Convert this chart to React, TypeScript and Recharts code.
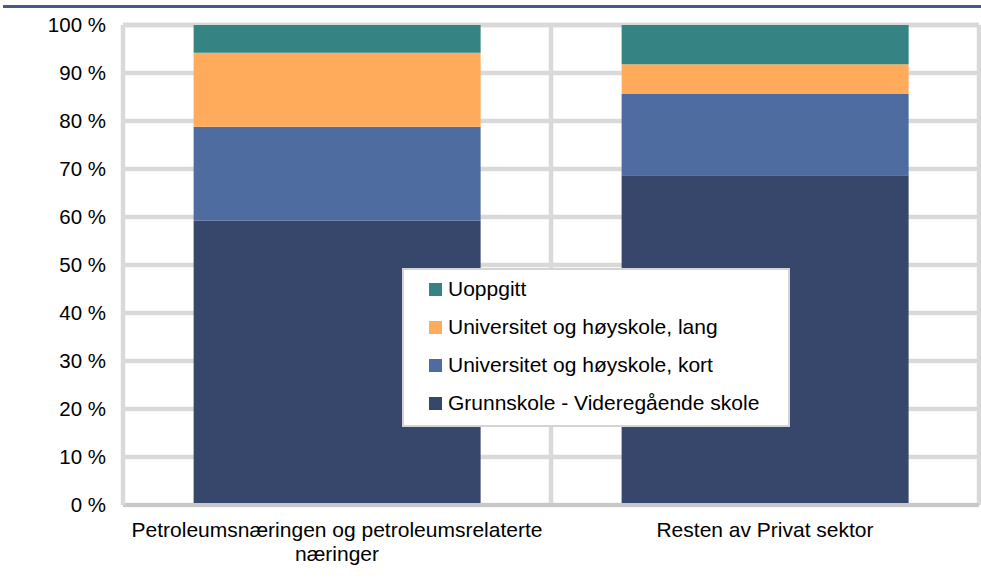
import React from "react";
import { BarChart, Bar, XAxis, YAxis, CartesianGrid, Legend } from "recharts";

const categories = [
  "Petroleumsnæringen og petroleumsrelaterte næringer",
  "Resten av Privat sektor",
];
const grunnskole = [59.2, 68.7];
const kort = [19.6, 16.9];
const lang = [15.4, 6.2];
const uoppgitt = [5.8, 8.2];
const yTicks = [0, 10, 20, 30, 40, 50, 60, 70, 80, 90, 100];

const series = [
  { key: "grunnskole", name: "Grunnskole - Videregående skole", color: "#36476b" },
  { key: "kort", name: "Universitet og høyskole, kort", color: "#4e6ca0" },
  { key: "lang", name: "Universitet og høyskole, lang", color: "#ffab5b" },
  { key: "uoppgitt", name: "Uoppgitt", color: "#358483" },
];

const data = categories.map((name, i) => ({
  name,
  grunnskole: grunnskole[i],
  kort: kort[i],
  lang: lang[i],
  uoppgitt: uoppgitt[i],
}));

const FONT = "'Liberation Sans', Arial, sans-serif";

// greedy word wrap measured on a canvas
const wrap = (text: string, maxWidth: number, font: string) => {
  const ctx = document.createElement("canvas").getContext("2d");
  if (!ctx) return [text];
  ctx.font = font;
  const lines: string[] = [];
  let cur = "";
  text.split(" ").forEach((w) => {
    const next = cur ? cur + " " + w : w;
    if (cur && ctx.measureText(next).width > maxWidth) {
      lines.push(cur);
      cur = w;
    } else {
      cur = next;
    }
  });
  if (cur) lines.push(cur);
  return lines;
};

const XTick = (props: any) => {
  const { x, y, payload } = props;
  const lines = wrap(String(payload.value), 430, "21px 'Liberation Sans'");
  return (
    <text x={x} y={y} textAnchor="middle" fontSize={21} fontFamily={FONT} fill="#000">
      {lines.map((l, i) => (
        <tspan key={i} x={x} dy={i === 0 ? 15 : 24}>
          {l}
        </tspan>
      ))}
    </text>
  );
};

const LegendBox = () => (
  <div
    style={{
      width: 388,
      height: 159,
      boxSizing: "border-box",
      border: "2px solid #d4d4d4",
      background: "#fff",
      paddingLeft: 25,
      fontFamily: FONT,
      fontSize: 21,
      color: "#000",
    }}
  >
    {[...series].reverse().map((s) => (
      <div key={s.key} style={{ height: 38, display: "flex", alignItems: "center" }}>
        <span style={{ width: 13, height: 13, background: s.color, marginRight: 6, display: "inline-block" }} />
        <span>{s.name}</span>
      </div>
    ))}
  </div>
);

export default function App() {
  return (
    <div style={{ position: "absolute", left: 0, top: 0, width: 981, height: 579, background: "#fff", fontFamily: FONT }}>
      <div style={{ position: "absolute", left: 3, top: 5, width: 978, height: 3, background: "#475a85" }} />
      <BarChart
        width={981}
        height={579}
        data={data}
        margin={{ top: 25, right: 2, bottom: 0, left: 0 }}
        barCategoryGap="16.5%"
      >
        <CartesianGrid
          stroke="#d9d9d9"
          strokeWidth={4.5}
          verticalCoordinatesGenerator={({ offset }: any) => [
            offset.left + offset.width / 2,
            offset.left + offset.width,
          ]}
        />
        <XAxis
          dataKey="name"
          height={74}
          axisLine={{ stroke: "#c8c8c8", strokeWidth: 4 }}
          tickLine={false}
          tickSize={0}
          tickMargin={17}
          interval={0}
          tick={<XTick />}
        />
        <YAxis
          width={123}
          domain={[0, 100]}
          ticks={yTicks}
          tickFormatter={(v: number) => `${v} %`}
          axisLine={{ stroke: "#d9d9d9", strokeWidth: 4.5 }}
          tickLine={false}
          tickSize={0}
          tickMargin={17}
          tick={{ fontSize: 20.5, fill: "#000", fontFamily: FONT }}
        />
        <Legend
          layout="vertical"
          align="center"
          verticalAlign="middle"
          content={<LegendBox />}
          wrapperStyle={{ left: 402, top: 268, width: 388, height: 159 }}
        />
        {series.map((s) => (
          <Bar key={s.key} dataKey={s.key} name={s.name} stackId="a" fill={s.color} isAnimationActive={false} />
        ))}
      </BarChart>
    </div>
  );
}
